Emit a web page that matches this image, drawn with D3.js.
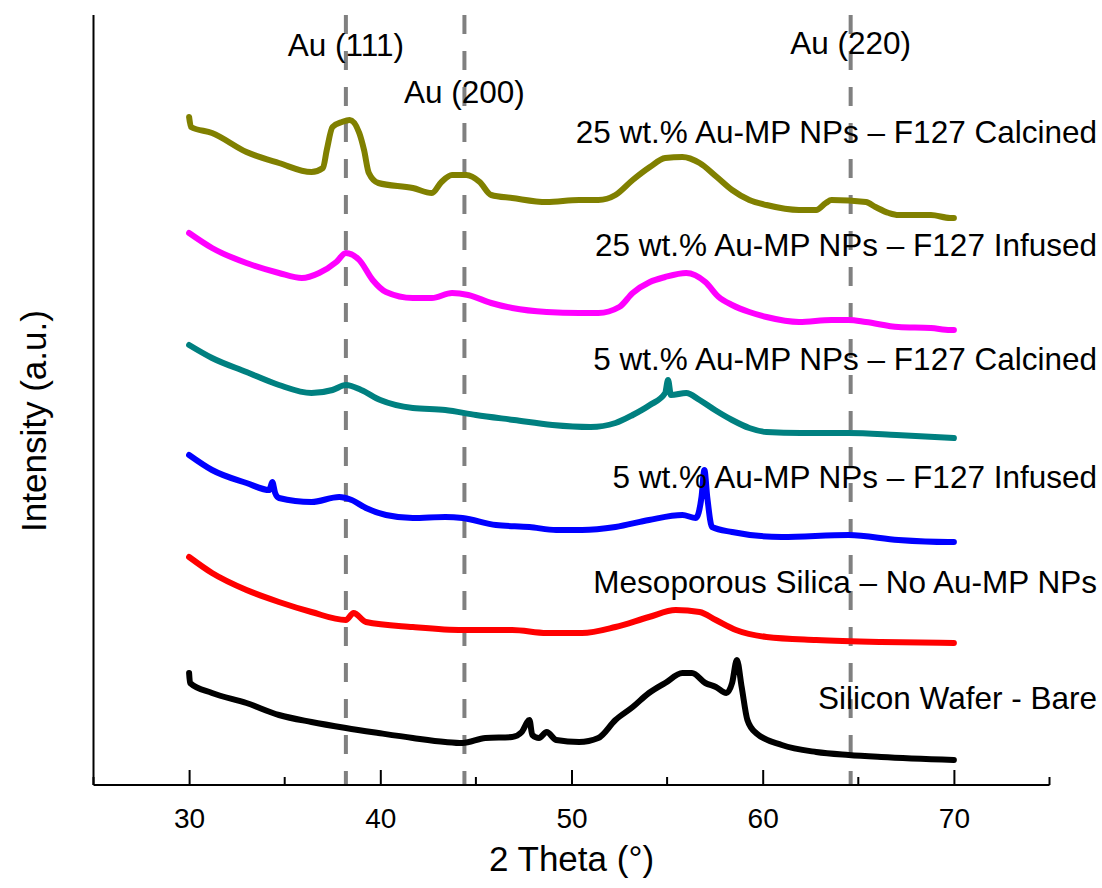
<!DOCTYPE html>
<html><head><meta charset="utf-8">
<script src="https://cdn.jsdelivr.net/npm/d3@7"></script>
<style>
html,body{margin:0;padding:0;background:#fff;}
text{font-family:Arial,"Liberation Sans",sans-serif;fill:#000;}
</style></head>
<body><svg id="chart" width="1102" height="888"></svg>
<script>
// ---- data (2 Theta in degrees, intensity in arbitrary units incl. offset) ----
const xTicks = [30, 40, 50, 60, 70];
const xMinorTicks = [25, 35, 45, 55, 65, 75];
const goldPeaks = [38.2, 44.4, 64.6];
const goldLabels = ["Au (111)", "Au (200)", "Au (220)"];
const seriesNames = [
  "25 wt.% Au-MP NPs \u2013 F127 Calcined",
  "25 wt.% Au-MP NPs \u2013 F127 Infused",
  "5 wt.% Au-MP NPs \u2013 F127 Calcined",
  "5 wt.% Au-MP NPs \u2013 F127 Infused",
  "Mesoporous Silica \u2013 No Au-MP NPs",
  "Silicon Wafer - Bare"
];
const seriesColors = ["#808000", "#ff00ff", "#008080", "#0000ff", "#ff0000", "#000000"];

const calc25 = [[30.0,668],[30.1,658],[31.2,652],[33.0,633],[34.7,622],[36.4,613],[37.0,617],[37.2,635],[37.5,658],[38.0,663],[38.4,665],[38.9,652],[39.15,635],[39.4,612],[39.9,602],[41.7,597],[42.7,592],[43.2,603],[43.75,610],[44.5,610],[45.2,603],[45.8,590],[46.9,587],[48.7,583],[50.4,585],[51.4,585],[52.3,590],[53.2,605],[54.1,618],[54.9,627],[55.8,628],[56.7,622],[57.6,608],[58.4,595],[59.3,585],[60.2,580],[61.9,575],[62.8,575],[63.3,582],[63.6,585],[65.4,583],[65.9,578],[66.6,572],[67.1,570],[68.8,570],[69.8,567],[70.0,567]];
const inf25 = [[30.0,552],[31.2,537],[33.0,522],[34.7,512],[35.9,507],[36.8,512],[37.7,523],[38.2,532],[38.9,525],[39.6,505],[40.3,493],[41.7,487],[42.7,487],[43.75,492],[44.6,490],[45.8,482],[46.9,477],[48.7,473],[50.4,472],[51.4,472],[52.5,478],[53.2,492],[54.1,503],[54.9,508],[56.0,512],[57.0,503],[57.7,488],[58.4,480],[59.3,473],[60.2,468],[61.9,463],[63.6,465],[64.5,465],[65.4,463],[67.1,458],[68.8,457],[69.8,455],[70.0,455]];
const calc5 = [[30.0,440],[31.2,427],[33.0,413],[34.7,400],[36.4,392],[37.5,395],[38.2,400],[39.0,395],[40.0,385],[41.7,377],[43.4,375],[45.0,370],[47.0,365],[49.0,360],[51.0,358],[52.3,362],[53.2,370],[54.1,380],[54.9,392],[55.05,405],[55.2,390],[56.0,392],[56.7,385],[57.5,375],[58.4,365],[59.3,357],[60.2,353],[62.0,352],[64.5,352],[67.0,350],[70.0,347]];
const inf5 = [[30.0,330],[31.2,315],[33.0,302],[34.2,295],[34.35,303],[34.5,292],[34.7,287],[36.4,283],[37.85,288],[38.5,285],[39.25,277],[40.3,270],[41.7,267],[43.4,268],[44.3,267],[46.05,260],[47.8,258],[49.2,255],[50.55,255],[52.3,258],[54.05,265],[55.8,270],[56.5,267],[56.8,288],[56.95,315],[57.1,288],[57.35,258],[58.4,253],[61.0,248],[64.5,250],[67.1,245],[69.7,243],[70.0,243]];
const meso = [[30.0,228],[31.2,212],[33.0,195],[34.7,183],[36.4,173],[38.2,165],[38.6,172],[39.25,163],[41.7,158],[44.3,155],[46.9,155],[48.7,152],[50.55,152],[52.3,158],[54.05,168],[55.45,175],[56.7,173],[57.55,165],[58.6,155],[60.2,148],[62.8,145],[66.2,143],[70.0,142]];
const wafer = [[30.0,112],[30.05,102],[31.2,92],[33.0,82],[34.7,70],[36.4,63],[38.2,57],[39.9,52],[41.7,47],[43.4,43],[44.3,42],[45.5,47],[46.9,48],[47.4,53],[47.8,65],[47.95,50],[48.3,47],[48.7,53],[49.2,45],[50.4,43],[51.4,47],[52.3,65],[53.2,78],[54.05,92],[54.9,102],[55.8,112],[56.3,112],[57.0,102],[57.55,98],[58.1,92],[58.4,102],[58.65,125],[58.9,98],[59.2,65],[59.65,52],[61.0,40],[62.8,33],[64.5,30],[66.2,28],[70.0,25]];
const seriesData = [calc25, inf25, calc5, inf5, meso, wafer];
const labelBaselines = [143, 256, 370, 488, 593, 709];

// ---- drawing ----
const svg = d3.select("#chart");
const x = d3.scaleLinear().domain([25, 75]).range([93.5, 1049.5]);
const y = d3.scaleLinear().domain([0, 770]).range([785, 15]);

// gold reference lines
svg.append("g").selectAll("line").data(goldPeaks).join("line")
  .attr("x1", d => x(d)).attr("x2", d => x(d))
  .attr("y1", y(770)).attr("y2", y(0))
  .attr("stroke", "#808080").attr("stroke-width", 4)
  .attr("stroke-dasharray", "19,17");

// series
const line = d3.line().x(d => x(d[0])).y(d => y(d[1])).curve(d3.curveMonotoneX);
svg.append("g").selectAll("path").data(seriesData).join("path")
  .attr("d", line)
  .attr("fill", "none")
  .attr("stroke", (d, i) => seriesColors[i])
  .attr("stroke-width", 6)
  .attr("stroke-linejoin", "round")
  .attr("stroke-linecap", "round");

// axes
const xAxis = svg.append("g").attr("transform", `translate(0,${y(0)})`)
  .call(d3.axisBottom(x).tickValues(xTicks).tickSize(-15).tickPadding(26).tickFormat(d3.format("d")));
xAxis.attr("font-size", 28).attr("font-family", null);
xAxis.select(".domain").attr("d", `M${x(25)},0H${x(75)}`).attr("stroke-width", 2);
xAxis.selectAll(".tick line").attr("stroke-width", 2);
xAxis.selectAll(".tick text").style("font-size", "28px").attr("dy", "0.6em");

svg.append("g").attr("transform", `translate(0,${y(0)})`)
  .selectAll("line").data(xMinorTicks).join("line")
  .attr("x1", d => x(d)).attr("x2", d => x(d))
  .attr("y1", 0).attr("y2", -8)
  .attr("stroke", "#000").attr("stroke-width", 2);

svg.append("line")
  .attr("x1", x(25)).attr("x2", x(25))
  .attr("y1", y(770)).attr("y2", y(0))
  .attr("stroke", "#000").attr("stroke-width", 2);

// axis titles
svg.append("text").attr("x", (x(25) + x(75)) / 2).attr("y", 871)
  .attr("text-anchor", "middle").style("font-size", "35px").text("2 Theta (\u00b0)");
svg.append("text").attr("transform", "translate(46,421) rotate(-90)")
  .attr("text-anchor", "middle").style("font-size", "35px").text("Intensity (a.u.)");

// gold labels
const goldLabelY = [56, 103, 54];
svg.append("g").selectAll("text").data(goldLabels).join("text")
  .attr("x", (d, i) => x(goldPeaks[i]))
  .attr("y", (d, i) => goldLabelY[i])
  .attr("text-anchor", "middle").style("font-size", "31.5px").text(d => d);

// series labels
svg.append("g").selectAll("text").data(seriesNames).join("text")
  .attr("x", 1097).attr("y", (d, i) => labelBaselines[i])
  .attr("text-anchor", "end").style("font-size", "31.5px").text(d => d);
</script>
</body></html>
